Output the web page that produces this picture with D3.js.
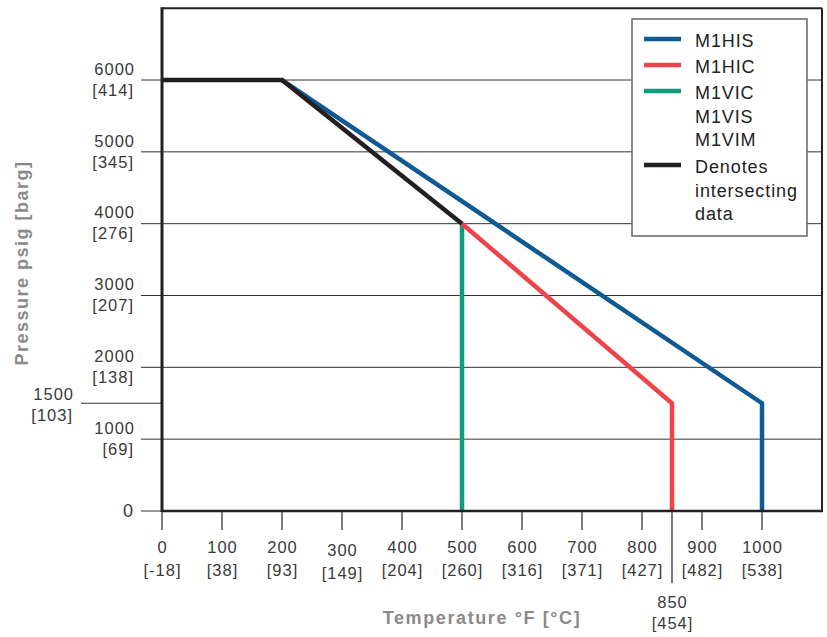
<!DOCTYPE html>
<html><head><meta charset="utf-8">
<script src="https://cdn.jsdelivr.net/npm/d3@7"></script>
<style>
html,body{margin:0;padding:0;background:#fff;}
svg text{font-family:"Liberation Sans",Arial,Helvetica,sans-serif;}
</style>
</head><body>
<svg id="c" width="827" height="637"></svg>
<script>
// ---- data ----
const xTicks = [0, 100, 200, 300, 400, 500, 600, 700, 800, 900, 1000];
const xTicksC = ["[-18]", "[38]", "[93]", "[149]", "[204]", "[260]", "[316]", "[371]", "[427]", "[482]", "[538]"];
const xExtraTick = 850, xExtraTickC = "[454]";
const yTicks = [1000, 2000, 3000, 4000, 5000, 6000];
const yTicksBar = ["[69]", "[138]", "[207]", "[276]", "[345]", "[414]"];
const yExtraTick = 1500, yExtraTickBar = "[103]";

const hisTemp = [200, 1000, 1000], hisPress = [6000, 1500, 0];
const hicTemp = [500, 850, 850],   hicPress = [4000, 1500, 0];
const vicTemp = [500, 500],        vicPress = [4000, 0];
const sharedTemp = [0, 200, 500],  sharedPress = [6000, 6000, 4000];

const legendNames = [["M1HIS"], ["M1HIC"], ["M1VIC", "M1VIS", "M1VIM"], ["Denotes", "intersecting", "data"]];
const colors = ["#0f5a93", "#ee4349", "#139a7b", "#231f20"];

// ---- chart ----
const svg = d3.select("#c");
const x = d3.scaleLinear().domain([0, 1100]).range([162, 822]);
const y = d3.scaleLinear().domain([0, 7000]).range([511, 8.2]);
const labelCol = "#3a3a3a";
const LS = 1; // letter spacing for tick labels

// grid lines
svg.append("g").selectAll("line").data(yTicks).join("line")
  .attr("x1", 141).attr("x2", x(1100)).attr("y1", d => y(d)).attr("y2", d => y(d))
  .attr("stroke", "#333").attr("stroke-width", 1);
svg.append("line").attr("x1", 141).attr("x2", x(0)).attr("y1", y(0)).attr("y2", y(0))
  .attr("stroke", "#333").attr("stroke-width", 1);
svg.append("line").attr("x1", 81).attr("x2", x(0)).attr("y1", y(yExtraTick)).attr("y2", y(yExtraTick))
  .attr("stroke", "#333").attr("stroke-width", 1);

// y labels
const yl = svg.append("g").attr("fill", labelCol).attr("font-size", 16.5).attr("text-anchor", "end").attr("letter-spacing", LS);
yTicks.forEach((v, i) => {
  yl.append("text").attr("x", 135).attr("y", y(v) - 11).attr("dy", "0.35em").text(d3.format("d")(v));
  yl.append("text").attr("x", 134).attr("y", y(v) + 10).attr("dy", "0.35em").text(yTicksBar[i]);
});
yl.append("text").attr("x", 74).attr("y", y(yExtraTick) - 9).attr("dy", "0.35em").text(d3.format("d")(yExtraTick));
yl.append("text").attr("x", 73).attr("y", y(yExtraTick) + 12).attr("dy", "0.35em").text(yExtraTickBar);
yl.append("text").attr("x", 133).attr("y", y(0)).attr("dy", "0.35em").attr("letter-spacing", 0)
  .attr("font-family", "'Liberation Serif','Times New Roman',serif").attr("font-size", 18).text("0");

// x ticks
const xt = svg.append("g");
xt.selectAll("line").data(xTicks).join("line")
  .attr("x1", d => x(d)).attr("x2", d => x(d)).attr("y1", y(0)).attr("y2", 530)
  .attr("stroke", "#333").attr("stroke-width", 1.3);
xt.append("line").attr("x1", x(xExtraTick)).attr("x2", x(xExtraTick)).attr("y1", y(0)).attr("y2", 583)
  .attr("stroke", "#333").attr("stroke-width", 1.3);
const xl = svg.append("g").attr("fill", labelCol).attr("font-size", 16.5).attr("text-anchor", "middle").attr("letter-spacing", LS);
xTicks.forEach((v, i) => {
  const off = v === 300 ? 3 : 0;
  xl.append("text").attr("x", x(v) + LS / 2).attr("y", 547 + off).attr("dy", "0.35em").text(v);
  xl.append("text").attr("x", x(v) + LS / 2).attr("y", 570 + off).attr("dy", "0.35em").text(xTicksC[i]);
});
xl.append("text").attr("x", x(xExtraTick) + LS / 2).attr("y", 602).attr("dy", "0.35em").text(xExtraTick);
xl.append("text").attr("x", x(xExtraTick) + LS / 2).attr("y", 623).attr("dy", "0.35em").text(xExtraTickC);

// series lines
const line = d3.line().x(d => x(d[0])).y(d => y(d[1]));
const zip = (a, b) => a.map((v, i) => [v, b[i]]);
const series = [zip(hisTemp, hisPress), zip(vicTemp, vicPress), zip(hicTemp, hicPress), zip(sharedTemp, sharedPress)];
const seriesCol = [colors[0], colors[2], colors[1], colors[3]];
svg.append("g").selectAll("path").data(series).join("path")
  .attr("d", line).attr("fill", "none")
  .attr("stroke", (d, i) => seriesCol[i]).attr("stroke-width", 4.5)
  .attr("stroke-linejoin", "miter").attr("stroke-linecap", "butt");

// frame
svg.append("line").attr("x1", x(0)).attr("x2", x(1100)).attr("y1", y(7000)).attr("y2", y(7000)).attr("stroke", "#222").attr("stroke-width", 2);
svg.append("line").attr("x1", x(1100)).attr("x2", x(1100)).attr("y1", y(7000)).attr("y2", y(0)).attr("stroke", "#222").attr("stroke-width", 2);
svg.append("line").attr("x1", x(0)).attr("x2", x(1100) + 1).attr("y1", y(0)).attr("y2", y(0)).attr("stroke", "#222").attr("stroke-width", 2.5);
svg.append("line").attr("x1", x(0)).attr("x2", x(0)).attr("y1", y(7000) - 1).attr("y2", y(0) + 1).attr("stroke", "#222").attr("stroke-width", 3);

// legend
const lg = svg.append("g");
lg.append("rect").attr("x", 632).attr("y", 19).attr("width", 175).attr("height", 217)
  .attr("fill", "#fff").attr("stroke", "#666").attr("stroke-width", 1.5);
const rowStart = [41, 67, 93, 167];
const lineH = 23.5;
legendNames.forEach((names, i) => {
  lg.append("line").attr("x1", 644).attr("x2", 681).attr("y1", rowStart[i] - 2).attr("y2", rowStart[i] - 2)
    .attr("stroke", colors[i]).attr("stroke-width", 4.5);
  names.forEach((n, j) => {
    lg.append("text").attr("x", 695).attr("y", rowStart[i] + j * lineH).attr("dy", "0.35em")
      .attr("font-size", 18).attr("letter-spacing", 0.9).attr("fill", "#222").text(n);
  });
});

// axis titles
svg.append("text").attr("x", 482).attr("y", 618).attr("dy", "0.35em").attr("text-anchor", "middle")
  .attr("font-size", 18).attr("letter-spacing", 1.6).attr("font-weight", "bold").attr("fill", "#8a8a8a").text("Temperature °F [°C]");
svg.append("text").attr("transform", "translate(22,263) rotate(-90)").attr("dy", "0.35em").attr("text-anchor", "middle")
  .attr("font-size", 18).attr("letter-spacing", 1.5).attr("font-weight", "bold").attr("fill", "#8a8a8a").text("Pressure psig [barg]");
</script>
</body></html>
